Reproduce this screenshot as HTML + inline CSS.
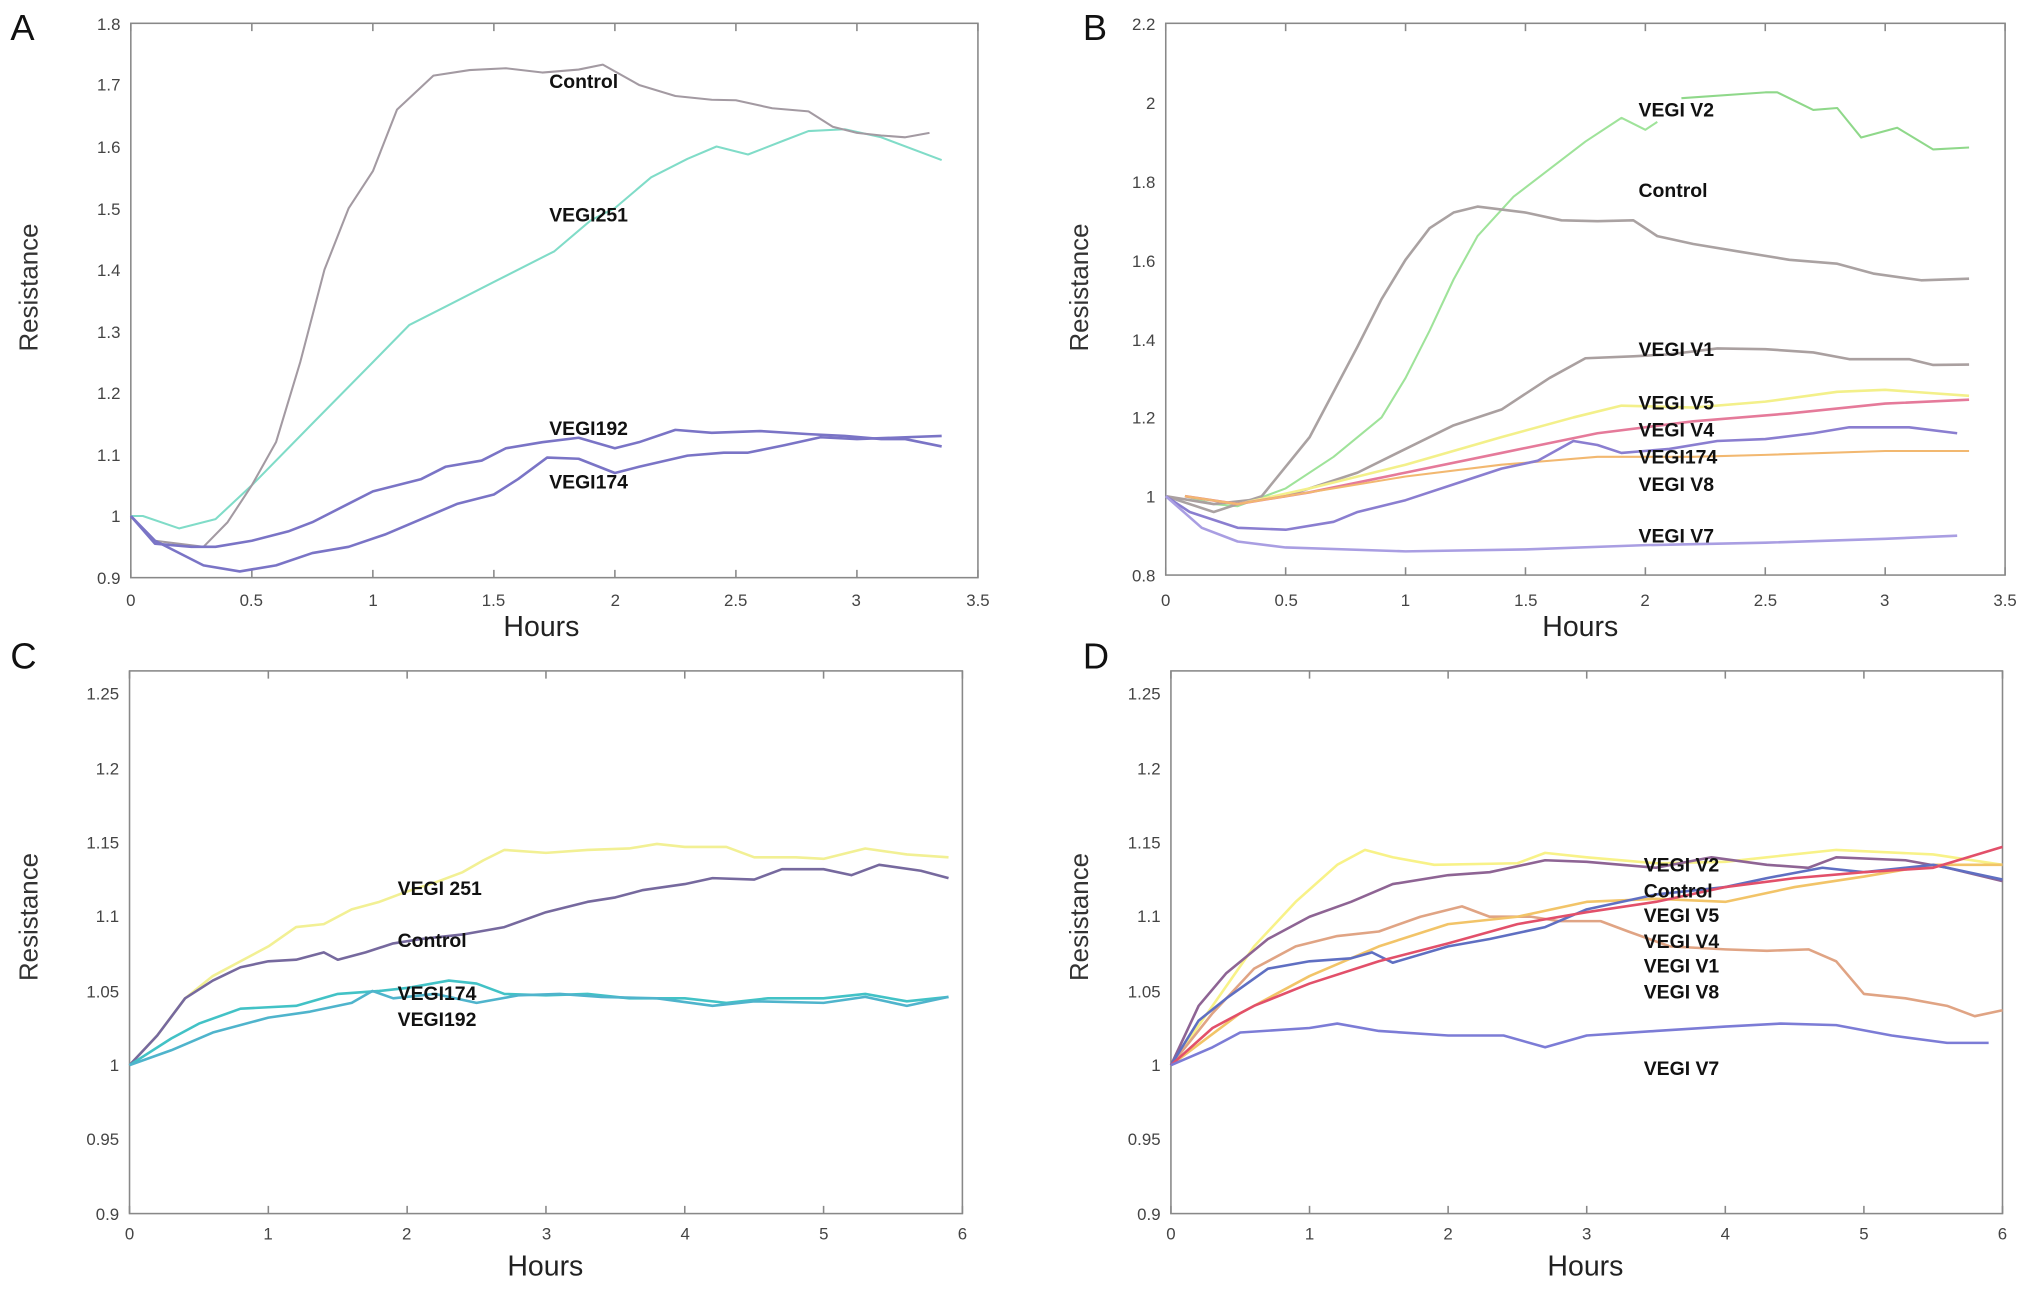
<!DOCTYPE html>
<html><head><meta charset="utf-8"><style>
html,body{margin:0;padding:0;background:#fff;}
svg{display:block;}
.t{font-family:"Liberation Sans Narrow","Liberation Sans",sans-serif;font-size:13px;fill:#444;}
.lb{font-family:"Liberation Sans Narrow","Liberation Sans",sans-serif;font-size:15px;font-weight:bold;fill:#111;}
.ax{font-family:"Liberation Sans",sans-serif;font-size:20px;fill:#333;}
.hr{font-family:"Liberation Sans Narrow","Liberation Sans",sans-serif;font-size:22px;fill:#222;}
.pl{font-family:"Liberation Sans",sans-serif;font-size:28px;fill:#111;}
</style></head><body>
<svg id="s" width="2031" height="1290" viewBox="0 0 1568 996" preserveAspectRatio="none" xmlns="http://www.w3.org/2000/svg">
<g id="frames" fill="none" stroke="#888" stroke-width="1.2"></g>
<g id="lines" fill="none" stroke-width="1.6" stroke-linejoin="round"></g>
<!-- Panel letters -->
<text class="pl" x="8" y="31">A</text>
<text class="pl" x="836" y="31">B</text>
<text class="pl" x="8" y="516">C</text>
<text class="pl" x="836" y="516">D</text>
<!-- Axis titles -->
<text class="ax" transform="translate(29,222) rotate(-90)" text-anchor="middle">Resistance</text>
<text class="ax" transform="translate(840,222) rotate(-90)" text-anchor="middle">Resistance</text>
<text class="ax" transform="translate(29,708) rotate(-90)" text-anchor="middle">Resistance</text>
<text class="ax" transform="translate(840,708) rotate(-90)" text-anchor="middle">Resistance</text>
<text class="hr" x="418" y="491" text-anchor="middle">Hours</text>
<text class="hr" x="1220" y="491" text-anchor="middle">Hours</text>
<text class="hr" x="421" y="985" text-anchor="middle">Hours</text>
<text class="hr" x="1224" y="985" text-anchor="middle">Hours</text>
<!-- A ticks -->
<g class="t" text-anchor="end">
<text x="93" y="451">0.9</text><text x="93" y="403">1</text><text x="93" y="356">1.1</text><text x="93" y="308">1.2</text><text x="93" y="261">1.3</text><text x="93" y="213">1.4</text><text x="93" y="166">1.5</text><text x="93" y="118">1.6</text><text x="93" y="70">1.7</text><text x="93" y="23">1.8</text>
<text x="892" y="449">0.8</text><text x="892" y="388">1</text><text x="892" y="327">1.2</text><text x="892" y="267">1.4</text><text x="892" y="206">1.6</text><text x="892" y="145">1.8</text><text x="892" y="84">2</text><text x="892" y="23">2.2</text>
<text x="92" y="942">0.9</text><text x="92" y="884">0.95</text><text x="92" y="827">1</text><text x="92" y="770">1.05</text><text x="92" y="712">1.1</text><text x="92" y="655">1.15</text><text x="92" y="598">1.2</text><text x="92" y="540">1.25</text>
<text x="896" y="942">0.9</text><text x="896" y="884">0.95</text><text x="896" y="827">1</text><text x="896" y="770">1.05</text><text x="896" y="712">1.1</text><text x="896" y="655">1.15</text><text x="896" y="598">1.2</text><text x="896" y="540">1.25</text>
</g>
<g class="t" text-anchor="middle">
<text x="101" y="468">0</text><text x="194" y="468">0.5</text><text x="288" y="468">1</text><text x="381" y="468">1.5</text><text x="475" y="468">2</text><text x="568" y="468">2.5</text><text x="661" y="468">3</text><text x="755" y="468">3.5</text>
<text x="900" y="468">0</text><text x="993" y="468">0.5</text><text x="1085" y="468">1</text><text x="1178" y="468">1.5</text><text x="1270" y="468">2</text><text x="1363" y="468">2.5</text><text x="1455" y="468">3</text><text x="1548" y="468">3.5</text>
<text x="100" y="957">0</text><text x="207" y="957">1</text><text x="314" y="957">2</text><text x="422" y="957">3</text><text x="529" y="957">4</text><text x="636" y="957">5</text><text x="743" y="957">6</text>
<text x="904" y="957">0</text><text x="1011" y="957">1</text><text x="1118" y="957">2</text><text x="1225" y="957">3</text><text x="1332" y="957">4</text><text x="1439" y="957">5</text><text x="1546" y="957">6</text>
</g>
<!-- series labels -->
<g class="lb">
<text x="424" y="68">Control</text><text x="424" y="171">VEGI251</text><text x="424" y="336">VEGI192</text><text x="424" y="377">VEGI174</text>
<text x="1265" y="90">VEGI V2</text><text x="1265" y="152">Control</text><text x="1265" y="275">VEGI V1</text><text x="1265" y="316">VEGI V5</text><text x="1265" y="337">VEGI V4</text><text x="1265" y="358">VEGI174</text><text x="1265" y="379">VEGI V8</text><text x="1265" y="419">VEGI V7</text>
<text x="307" y="691">VEGI 251</text><text x="307" y="731">Control</text><text x="307" y="772">VEGI174</text><text x="307" y="792">VEGI192</text>
<text x="1269" y="673">VEGI V2</text><text x="1269" y="693">Control</text><text x="1269" y="712">VEGI V5</text><text x="1269" y="732">VEGI V4</text><text x="1269" y="751">VEGI V1</text><text x="1269" y="771">VEGI V8</text><text x="1269" y="830">VEGI V7</text>
</g>
</svg>
<script>
var NS="http://www.w3.org/2000/svg";
var P={
A:{x0:101,x1:755,xm:3.5,xs:0.5,y0:446,y1:18,vm:0.9,vM:1.8,ys:0.1},
B:{x0:900,x1:1548,xm:3.5,xs:0.5,y0:444,y1:18,vm:0.8,vM:2.2,ys:0.2},
C:{x0:100,x1:743,xm:6,xs:1,y0:937,y1:518,vm:0.9,vM:1.2656,ys:0.05,top:1.25},
D:{x0:904,x1:1546,xm:6,xs:1,y0:937,y1:518,vm:0.9,vM:1.2656,ys:0.05,top:1.25}
};
function X(p,h){return p.x0+h/p.xm*(p.x1-p.x0);}
function Y(p,v){return p.y0-(v-p.vm)/(p.vM-p.vm)*(p.y0-p.y1);}
var fr=document.getElementById("frames"),ln=document.getElementById("lines");
for(var k in P){var p=P[k];
 var r=document.createElementNS(NS,"rect");r.setAttribute("x",p.x0);r.setAttribute("y",p.y1);r.setAttribute("width",p.x1-p.x0);r.setAttribute("height",p.y0-p.y1);fr.appendChild(r);
 var d="";
 for(var h=0;h<=p.xm+1e-6;h+=p.xs){var x=X(p,h);d+="M"+x+" "+p.y0+"v-6M"+x+" "+p.y1+"v6";}
 var top=p.top||p.vM;
 for(var v=p.vm;v<=top+1e-6;v+=p.ys){var y=Y(p,v);d+="M"+p.x0+" "+y+"h6M"+p.x1+" "+y+"h-6";}
 var pa=document.createElementNS(NS,"path");pa.setAttribute("d",d);fr.appendChild(pa);
}
function L(k,c,pts,w){var p=P[k],s="";for(var i=0;i<pts.length;i+=2)s+=X(p,pts[i]).toFixed(1)+","+Y(p,pts[i+1]).toFixed(1)+" ";
 var e=document.createElementNS(NS,"polyline");e.setAttribute("points",s);e.setAttribute("stroke",c);if(w)e.setAttribute("stroke-width",w);ln.appendChild(e);}
// A
L("A","#80dcc8",[0,1,0.05,1,0.2,0.98,0.35,0.995,0.5,1.05,0.75,1.15,1,1.25,1.15,1.31,1.3,1.34,1.5,1.38,1.65,1.41,1.75,1.43,1.9,1.48,2,1.5,2.15,1.55,2.3,1.58,2.42,1.6,2.55,1.587,2.7,1.61,2.8,1.625,2.95,1.628,3.1,1.615,3.35,1.578]);
L("A","#a39aa2",[0,1,0.1,0.96,0.3,0.95,0.4,0.99,0.5,1.05,0.6,1.12,0.7,1.25,0.8,1.4,0.9,1.5,1,1.56,1.1,1.66,1.25,1.715,1.4,1.724,1.55,1.727,1.7,1.72,1.85,1.725,1.95,1.733,2.1,1.7,2.25,1.682,2.4,1.676,2.5,1.675,2.65,1.662,2.8,1.657,2.9,1.632,3,1.622,3.1,1.618,3.2,1.615,3.3,1.622]);
L("A","#7a74c6",[0,1,0.1,0.955,0.25,0.95,0.35,0.95,0.5,0.96,0.65,0.975,0.75,0.99,0.9,1.02,1,1.04,1.2,1.06,1.3,1.08,1.45,1.09,1.55,1.11,1.7,1.12,1.85,1.127,2,1.11,2.1,1.12,2.25,1.14,2.4,1.135,2.6,1.138,2.8,1.133,2.95,1.13,3.1,1.125,3.2,1.125,3.35,1.113],2);
L("A","#7a74c6",[0,1,0.1,0.96,0.3,0.92,0.45,0.91,0.6,0.92,0.75,0.94,0.9,0.95,1.05,0.97,1.35,1.02,1.5,1.035,1.6,1.06,1.72,1.095,1.85,1.093,2,1.07,2.1,1.08,2.3,1.098,2.45,1.103,2.55,1.103,2.7,1.115,2.85,1.128,3,1.125,3.2,1.128,3.35,1.13],2);
// B
L("B","#9fe39a",[0.08,1,0.2,0.98,0.3,0.975,0.5,1.02,0.7,1.1,0.9,1.2,1,1.3,1.1,1.42,1.2,1.55,1.3,1.66,1.45,1.76,1.6,1.83,1.75,1.9,1.9,1.96,2,1.93,2.05,1.95]);
L("B","#8fd88a",[2.15,2.01,2.5,2.025,2.55,2.025,2.7,1.98,2.8,1.985,2.9,1.91,3.05,1.935,3.2,1.88,3.35,1.885]);
L("B","#aaa2a2",[0,1,0.2,0.96,0.4,1.0,0.6,1.15,0.8,1.38,0.9,1.5,1,1.6,1.1,1.68,1.2,1.72,1.3,1.735,1.5,1.72,1.65,1.7,1.8,1.698,1.95,1.7,2.05,1.66,2.2,1.64,2.4,1.62,2.6,1.6,2.8,1.59,2.95,1.565,3.15,1.548,3.35,1.552],2);
L("B","#aaa0a0",[0,1,0.2,0.98,0.5,1.0,0.8,1.06,1,1.12,1.2,1.18,1.4,1.22,1.6,1.3,1.75,1.35,1.95,1.355,2.1,1.36,2.3,1.375,2.5,1.373,2.7,1.365,2.85,1.348,3.1,1.348,3.2,1.333,3.35,1.334],2);
L("B","#f3f08a",[0.08,1,0.3,0.98,0.6,1.02,1,1.08,1.4,1.15,1.7,1.2,1.9,1.23,2.2,1.225,2.5,1.24,2.8,1.265,3.0,1.27,3.35,1.255],2);
L("B","#e57a9a",[0.08,1,0.3,0.98,0.6,1.01,1,1.06,1.4,1.11,1.8,1.16,2.2,1.19,2.6,1.21,3,1.235,3.35,1.245],2);
L("B","#f2b870",[0.08,1,0.3,0.98,0.7,1.02,1,1.05,1.4,1.08,1.8,1.1,2.2,1.1,2.5,1.105,3,1.115,3.35,1.115]);
L("B","#8a7ed0",[0,1,0.1,0.96,0.3,0.92,0.5,0.915,0.7,0.935,0.8,0.96,1,0.99,1.2,1.03,1.4,1.07,1.55,1.09,1.7,1.14,1.8,1.13,1.9,1.11,2.1,1.12,2.3,1.14,2.5,1.145,2.7,1.16,2.85,1.175,3.1,1.175,3.3,1.16],2);
L("B","#a99ee2",[0,1,0.15,0.92,0.3,0.885,0.5,0.87,1,0.86,1.5,0.865,2,0.876,2.5,0.882,3,0.892,3.3,0.9],2);
// C
L("C","#f2f094",[0,1,0.2,1.02,0.4,1.045,0.6,1.06,0.8,1.07,1,1.08,1.2,1.093,1.4,1.095,1.6,1.105,1.8,1.11,2,1.117,2.2,1.123,2.4,1.13,2.55,1.138,2.7,1.145,3,1.143,3.3,1.145,3.6,1.146,3.8,1.149,4,1.147,4.3,1.147,4.5,1.14,4.8,1.14,5,1.139,5.3,1.146,5.6,1.142,5.9,1.14],2);
L("C","#76699e",[0,1,0.2,1.02,0.4,1.045,0.6,1.057,0.8,1.066,1,1.07,1.2,1.071,1.4,1.076,1.5,1.071,1.7,1.076,1.9,1.082,2.1,1.085,2.4,1.088,2.7,1.093,3,1.103,3.3,1.11,3.5,1.113,3.7,1.118,4,1.122,4.2,1.126,4.5,1.125,4.7,1.132,5,1.132,5.2,1.128,5.4,1.135,5.7,1.131,5.9,1.126],2);
L("C","#42c2c6",[0,1,0.3,1.018,0.5,1.028,0.8,1.038,1,1.039,1.2,1.04,1.5,1.048,1.8,1.05,2,1.052,2.3,1.057,2.5,1.055,2.7,1.048,3,1.047,3.3,1.048,3.6,1.045,4,1.045,4.3,1.042,4.6,1.045,5,1.045,5.3,1.048,5.6,1.043,5.9,1.046],2);
L("C","#4fb4cc",[0,1,0.3,1.01,0.6,1.022,1,1.032,1.3,1.036,1.6,1.042,1.75,1.05,1.9,1.045,2.2,1.048,2.5,1.042,2.8,1.047,3.1,1.048,3.4,1.046,3.8,1.045,4.2,1.04,4.5,1.043,5,1.042,5.3,1.046,5.6,1.04,5.9,1.046],2);
// D
L("D","#f8f288",[0,1,0.3,1.04,0.6,1.08,0.9,1.11,1.2,1.135,1.4,1.145,1.6,1.14,1.9,1.135,2.5,1.136,2.7,1.143,3,1.14,3.5,1.136,4,1.137,4.3,1.14,4.8,1.145,5.5,1.142,6,1.135],2);
L("D","#8e6494",[0,1,0.2,1.04,0.4,1.062,0.7,1.085,1,1.1,1.3,1.11,1.6,1.122,2,1.128,2.3,1.13,2.7,1.138,3,1.137,3.5,1.133,3.9,1.14,4.3,1.135,4.6,1.133,4.8,1.14,5.3,1.138,5.6,1.133,6,1.124],2);
L("D","#e0a484",[0,1,0.3,1.035,0.6,1.065,0.9,1.08,1.2,1.087,1.5,1.09,1.8,1.1,2.1,1.107,2.3,1.1,2.6,1.1,2.8,1.097,3.1,1.097,3.3,1.09,3.6,1.08,4,1.078,4.3,1.077,4.6,1.078,4.8,1.07,5,1.048,5.3,1.045,5.6,1.04,5.8,1.033,6,1.037],2);
L("D","#f2c468",[0,1,0.5,1.035,1,1.06,1.5,1.08,2,1.095,2.5,1.1,3,1.11,3.5,1.112,4,1.11,4.5,1.12,5,1.127,5.5,1.135,6,1.135],2);
L("D","#5f6fc2",[0,1,0.2,1.03,0.4,1.045,0.7,1.065,1,1.07,1.3,1.072,1.45,1.076,1.6,1.069,2,1.08,2.3,1.085,2.7,1.093,3,1.105,3.5,1.115,4,1.12,4.3,1.126,4.7,1.133,5,1.13,5.5,1.135,6,1.125],2);
L("D","#e2506a",[0,1,0.3,1.025,0.6,1.04,1,1.055,1.5,1.07,2,1.082,2.5,1.095,3,1.103,3.5,1.11,4,1.12,4.5,1.126,5,1.13,5.5,1.133,6,1.147],2);
L("D","#7c7cd6",[0,1,0.3,1.012,0.5,1.022,1,1.025,1.2,1.028,1.5,1.023,2,1.02,2.4,1.02,2.7,1.012,3,1.02,3.5,1.023,4,1.026,4.4,1.028,4.8,1.027,5.2,1.02,5.6,1.015,5.9,1.015],2);
</script>
</body></html>
